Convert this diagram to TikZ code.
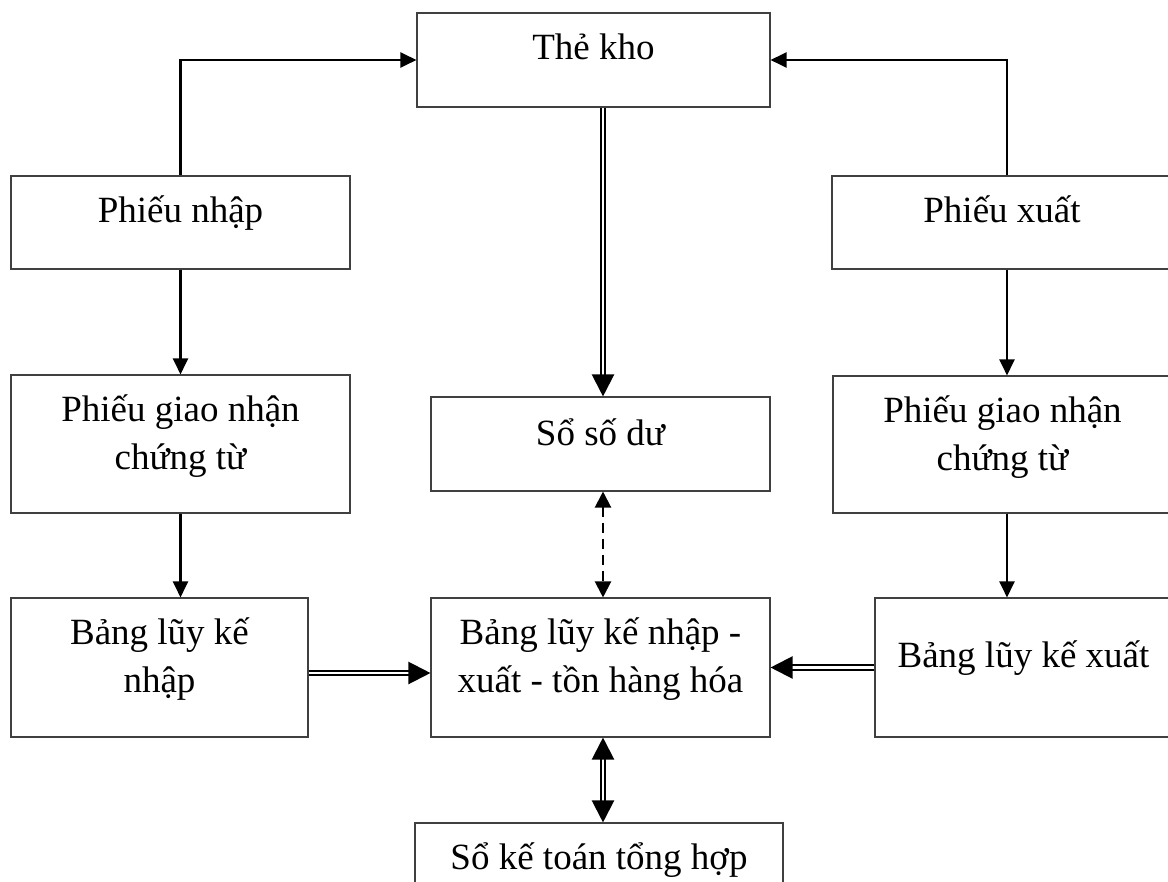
\documentclass[tikz,border=0pt]{standalone}
\usepackage{fontspec}
\setmainfont{Liberation Serif}
\usetikzlibrary{arrows.meta,calc}
\newcommand\bt[2][10]{\raisebox{#1pt}[\height][\depth]{\begin{tabular}{@{}c@{}}#2\end{tabular}}}
\tikzset{
  box/.style={draw=black!75, line width=1.1pt, inner sep=0pt, rectangle, font=\fontsize{37}{48}\selectfont},
  arr/.style={line width=2.2pt, -{Triangle[length=16pt,width=15pt]}},
  dsh/.style={line width=2.2pt, dash pattern=on 10pt off 6pt, {Triangle[length=16pt,width=16pt]}-{Triangle[length=16pt,width=16pt]}},
  dbl/.style={double, double distance=2.2pt, line width=2.2pt, -{Triangle[length=22pt,width=22pt]}},
  dblb/.style={double, double distance=2.2pt, line width=2.2pt, {Triangle[length=22pt,width=22pt]}-{Triangle[length=22pt,width=22pt]}}
}
\begin{document}
\begin{tikzpicture}[x=1pt,y=-1pt]
\useasboundingbox (0,0) rectangle (1168,882);
\clip (0,0) rectangle (1168,882);
\node[box, minimum width=353pt, minimum height=94pt] (tk) at (593.5,60) {\bt{Thẻ kho}};
\node[box, minimum width=339pt, minimum height=93pt] (pn) at (180.5,222.5) {\bt{Phiếu nhập}};
\node[box, minimum width=340pt, minimum height=93pt] (px) at (1002,222.5) {\bt{Phiếu xuất}};
\node[box, minimum width=339pt, minimum height=138pt] (gl) at (180.5,444) {\bt[8]{Phiếu giao nhận\\chứng từ}};
\node[box, minimum width=339pt, minimum height=137pt] (gr) at (1002.5,444.5) {\bt[8]{Phiếu giao nhận\\chứng từ}};
\node[box, minimum width=339pt, minimum height=94pt] (sd) at (600.5,444) {\bt[8]{Sổ số dư}};
\node[box, minimum width=297pt, minimum height=139pt] (bn) at (159.5,667.5) {\bt[9]{Bảng lũy kế\\nhập}};
\node[box, minimum width=339pt, minimum height=139pt] (nxt) at (600.5,667.5) {\bt[9]{Bảng lũy kế nhập -\\xuất - tồn hàng hóa}};
\node[box, minimum width=297pt, minimum height=139pt] (bx) at (1023.5,667.5) {\bt{Bảng lũy kế xuất}};
\node[box, minimum width=368pt, minimum height=93pt] (sk) at (599,869.5) {\bt{Sổ kế toán tổng hợp}};
\coordinate (cx) at ($(sd.north)+(2.5,0)$);
\coordinate (rx) at ($(px.north)+(5,0)$);
\coordinate (ly) at ($(bn.east)+(0,5.5)$);
\draw[arr] (pn.north) |- (tk.west);
\draw[arr] (rx) |- (tk.east);
\draw[arr] (pn.south) -- (gl.north);
\draw[arr] (gl.south) -- (gl.south |- bn.north);
\draw[arr] (rx |- px.south) -- (rx |- gr.north);
\draw[arr] (rx |- gr.south) -- (rx |- bx.north);
\draw[dbl] (cx |- tk.south) -- (cx |- sd.north);
\draw[dsh] (cx |- sd.south) -- (cx |- nxt.north);
\draw[dbl] (ly) -- (ly -| nxt.west);
\draw[dbl] (bx.west) -- (bx.west -| nxt.east);
\draw[dblb] (cx |- nxt.south) -- (cx |- sk.north);
\end{tikzpicture}
\end{document}
